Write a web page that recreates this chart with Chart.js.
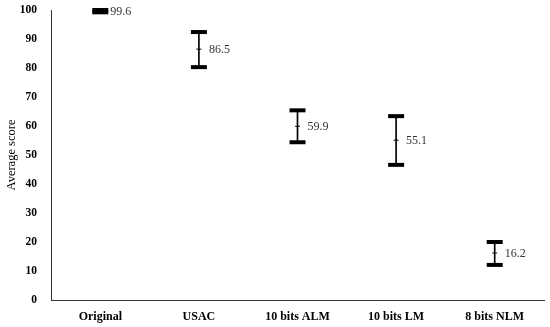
<!DOCTYPE html>
<html><head><meta charset="utf-8">
<script src="https://cdn.jsdelivr.net/npm/chart.js@4/dist/chart.umd.min.js"></script>
<style>html,body{margin:0;padding:0;background:#fff}#w{width:550px;height:327px}</style>
</head><body><div id="w"><canvas id="c"></canvas></div>
<script>
const categories = ['Original', 'USAC', '10 bits ALM', '10 bits LM', '8 bits NLM'];
const meanValues = [99.6, 86.5, 59.9, 55.1, 16.2];
const upperValues = [100, 92.4, 65.4, 63.4, 20.0];
const lowerValues = [99.2, 80.3, 54.4, 46.6, 12.1];
const yTicks = [0, 10, 20, 30, 40, 50, 60, 70, 80, 90, 100];

const serif = '"Liberation Serif", "DejaVu Serif", serif';

const labelPlugin = {
  id: 'meanLabels',
  afterDatasetsDraw(chart) {
    const ctx = chart.ctx, x = chart.scales.x, y = chart.scales.y;
    ctx.save();
    ctx.font = '12px ' + serif;
    ctx.fillStyle = '#333';
    ctx.textBaseline = 'middle';
    ctx.textAlign = 'left';
    meanValues.forEach((v, i) => {
      ctx.fillText(v.toFixed(1), x.getPixelForValue(i) + 10, y.getPixelForValue(v) + 1);
    });
    ctx.restore();
  }
};

new Chart(document.getElementById('c'), {
  data: {
    labels: categories,
    datasets: [
      { type: 'bar', data: categories.map((c, i) => [lowerValues[i], upperValues[i]]),
        backgroundColor: '#000', barThickness: 1, grouped: false, clip: false },
      { type: 'line', data: upperValues, showLine: false, pointStyle: 'line', pointRadius: 8,
        pointBorderWidth: 4, borderColor: '#000', backgroundColor: '#000', clip: false },
      { type: 'line', data: lowerValues, showLine: false, pointStyle: 'line', pointRadius: 8,
        pointBorderWidth: 4, borderColor: '#000', backgroundColor: '#000', clip: false },
      { type: 'line', data: meanValues, showLine: false, pointStyle: 'line', pointRadius: 2.5,
        pointBorderWidth: 1, borderColor: '#000', backgroundColor: '#000', clip: false }
    ]
  },
  options: {
    responsive: true, maintainAspectRatio: false, animation: false,
    events: [],
    layout: { autoPadding: false, padding: { top: 10, right: 6, left: 4, bottom: 0 } },
    plugins: { legend: { display: false }, tooltip: { enabled: false } },
    elements: { point: { hoverRadius: 0 } },
    scales: {
      x: {
        type: 'category',
        grid: { display: false, drawTicks: false },
        border: { display: true, color: '#333', width: 1 },
        ticks: { color: '#000', font: { family: serif, size: 12, weight: 'bold' }, padding: 10, maxRotation: 0 },
        afterFit(s) { s.height = 27; s.paddingLeft = 0; s.paddingRight = 0; }
      },
      y: {
        min: 0, max: 100,
        grid: { display: false, drawTicks: false },
        border: { display: true, color: '#333', width: 1 },
        afterBuildTicks(s) { s.ticks = yTicks.map(v => ({ value: v })); },
        ticks: { color: '#000', font: { family: serif, size: 11.5, weight: 'bold' }, padding: 14 },
        title: { display: true, text: 'Average score', color: '#000', font: { family: serif, size: 12.5 }, padding: 0 },
        afterFit(s) { s.width = 47; s.paddingTop = 0; s.paddingBottom = 0; }
      }
    }
  },
  plugins: [labelPlugin]
});
</script></body></html>
